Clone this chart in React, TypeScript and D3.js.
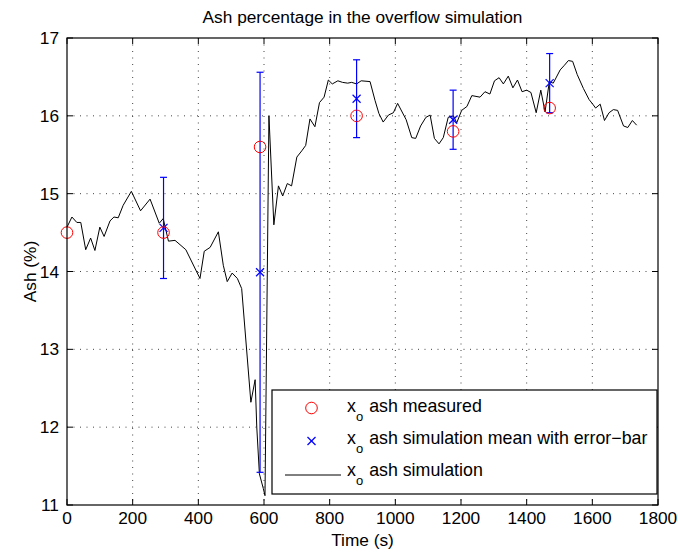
import React from "react";
import * as d3 from "d3";

const simTime = [0, 15, 30, 42, 57, 72, 85, 100, 113, 131, 143, 156, 171, 196, 224, 253, 281, 293, 309, 329, 362, 405, 418, 436, 461, 476, 488, 503, 519, 532, 560, 573, 578, 586, 598, 603, 615, 630, 644, 657, 671, 684, 700, 715, 727, 740, 755, 769, 783, 796, 808, 825, 839, 855, 867, 882, 896, 923, 938, 950, 963, 979, 994, 1007, 1033, 1050, 1062, 1077, 1093, 1106, 1119, 1133, 1146, 1161, 1177, 1187, 1202, 1218, 1233, 1258, 1273, 1288, 1302, 1316, 1329, 1344, 1358, 1372, 1386, 1400, 1413, 1429, 1443, 1456, 1469, 1481, 1502, 1515, 1527, 1540, 1554, 1573, 1590, 1603, 1610, 1624, 1637, 1651, 1664, 1677, 1695, 1708, 1722, 1735];
const simAsh = [14.57, 14.7, 14.63, 14.63, 14.28, 14.43, 14.27, 14.57, 14.45, 14.65, 14.7, 14.69, 14.85, 15.03, 14.78, 14.93, 14.62, 14.68, 14.39, 14.4, 14.28, 13.91, 14.26, 14.31, 14.51, 14.08, 13.87, 13.98, 13.91, 13.78, 12.32, 12.61, 12.0, 11.4, 11.21, 11.12, 16.0, 14.6, 15.1, 14.97, 15.13, 15.1, 15.47, 15.55, 15.62, 15.96, 15.86, 16.17, 16.24, 16.46, 16.41, 16.45, 16.43, 16.42, 16.43, 16.41, 16.45, 16.44, 16.2, 16.03, 15.92, 16.01, 16.04, 16.16, 15.95, 15.72, 15.71, 15.87, 15.98, 16.01, 15.71, 15.64, 15.72, 15.98, 16.0, 15.91, 16.07, 16.12, 16.26, 16.24, 16.31, 16.28, 16.45, 16.49, 16.41, 16.51, 16.36, 16.46, 16.31, 16.33, 16.3, 16.04, 16.33, 16.05, 16.44, 16.42, 16.59, 16.65, 16.71, 16.7, 16.53, 16.35, 16.21, 16.14, 16.1, 16.15, 15.94, 16.04, 16.08, 16.07, 15.87, 15.85, 15.94, 15.88];

const measTime = [0, 294, 588, 882, 1176, 1470];
const measAsh = [14.5, 14.5, 15.6, 16.0, 15.8, 16.1];

const meanTime = [294, 588, 882, 1176, 1470];
const meanAsh = [14.56, 13.99, 16.22, 15.95, 16.42];
const errHalf = [0.65, 2.57, 0.5, 0.38, 0.38];

const xTicks = [0, 200, 400, 600, 800, 1000, 1200, 1400, 1600, 1800];
const yTicks = [11, 12, 13, 14, 15, 16, 17];

const title = "Ash percentage in the overflow simulation";
const xLabel = "Time (s)";
const yLabel = "Ash (%)";
const legendLabels = ["ash measured", "ash simulation mean with error\u2212bar", "ash simulation"];

const FONT = "'Liberation Sans', Arial, Helvetica, sans-serif";

export default function App() {
  const W = 678, H = 554;
  const L = 67, R = 658, T = 38, B = 505;
  const x = d3.scaleLinear().domain([0, 1800]).range([L, R]);
  const y = d3.scaleLinear().domain([11, 17]).range([B, T]);
  const line = d3
    .line<number>()
    .x((_, i) => x(simTime[i]))
    .y((d) => y(d));
  const tick = 6;
  const fs = 17.3;
  const lfs = 17.8;

  const lgX = 272, lgY = 390, lgW = 385, lgH = 104;
  const rows = [409, 441, 473];

  return (
    <svg width={W} height={H} style={{ position: "absolute", left: 0, top: 0, background: "#fff" }} fontFamily={FONT}>
      <rect x={0} y={0} width={W} height={H} fill="#fff" />
      {/* grid */}
      {xTicks.slice(1, -1).map((t) => (
        <line key={"gx" + t} x1={x(t)} x2={x(t)} y1={T} y2={B} stroke="#444" strokeWidth={1} strokeDasharray="1,5.5" />
      ))}
      {yTicks.slice(1, -1).map((t) => (
        <line key={"gy" + t} x1={L} x2={R} y1={y(t)} y2={y(t)} stroke="#444" strokeWidth={1} strokeDasharray="1,5.5" />
      ))}
      {/* ticks */}
      {xTicks.map((t) => (
        <g key={"tx" + t}>
          <line x1={x(t)} x2={x(t)} y1={B} y2={B - tick} stroke="#000" />
          <line x1={x(t)} x2={x(t)} y1={T} y2={T + tick} stroke="#000" />
          <text x={x(t)} y={B + 19} fontSize={fs} textAnchor="middle" fill="#000">{t}</text>
        </g>
      ))}
      {yTicks.map((t) => (
        <g key={"ty" + t}>
          <line x1={L} x2={L + tick} y1={y(t)} y2={y(t)} stroke="#000" />
          <line x1={R} x2={R - tick} y1={y(t)} y2={y(t)} stroke="#000" />
          <text x={L - 8} y={y(t) + 6} fontSize={fs} textAnchor="end" fill="#000">{t}</text>
        </g>
      ))}
      {/* simulation line */}
      <path d={line(simAsh) || ""} fill="none" stroke="#000" strokeWidth={1} />
      {/* error bars */}
      {meanTime.map((t, i) => {
        const cx = x(t);
        const y1 = y(meanAsh[i] + errHalf[i]);
        const y2 = y(meanAsh[i] - errHalf[i]);
        const cy = y(meanAsh[i]);
        return (
          <g key={"eb" + t} stroke="#0000ff" strokeWidth={1.2}>
            <line x1={cx} x2={cx} y1={y1} y2={y2} />
            <line x1={cx - 3.5} x2={cx + 3.5} y1={y1} y2={y1} />
            <line x1={cx - 3.5} x2={cx + 3.5} y1={y2} y2={y2} />
            <line x1={cx - 4} x2={cx + 4} y1={cy - 4} y2={cy + 4} />
            <line x1={cx - 4} x2={cx + 4} y1={cy + 4} y2={cy - 4} />
          </g>
        );
      })}
      {/* measured */}
      {measTime.map((t, i) => (
        <circle key={"m" + t} cx={x(t)} cy={y(measAsh[i])} r={5.8} fill="none" stroke="#ff0000" strokeWidth={1} />
      ))}
      {/* axes box */}
      <rect x={L} y={T} width={R - L} height={B - T} fill="none" stroke="#000" strokeWidth={1.2} />
      {/* legend */}
      <rect x={lgX} y={lgY} width={lgW} height={lgH} fill="#fff" stroke="#000" strokeWidth={1.2} />
      <circle cx={311.5} cy={rows[0] - 1} r={5.8} fill="none" stroke="#ff0000" strokeWidth={1} />
      <g stroke="#0000ff" strokeWidth={1.2}>
        <line x1={307.5} x2={315.5} y1={rows[1] - 4} y2={rows[1] + 4} />
        <line x1={307.5} x2={315.5} y1={rows[1] + 4} y2={rows[1] - 4} />
      </g>
      <line x1={285} x2={341} y1={rows[2] + 2} y2={rows[2] + 2} stroke="#000" strokeWidth={1} />
      {legendLabels.map((lab, i) => (
        <text key={"lg" + i} x={347} y={rows[i] + 3} fontSize={lfs} fill="#000">
          x
          <tspan dy={9} fontSize={13}>o</tspan>
          <tspan dy={-9} dx={6}>{lab}</tspan>
        </text>
      ))}
      {/* labels */}
      <text x={(L + R) / 2} y={23} fontSize={fs} textAnchor="middle" fill="#000">{title}</text>
      <text x={(L + R) / 2} y={546} fontSize={fs} textAnchor="middle" fill="#000">{xLabel}</text>
      <text transform={`translate(36,${(T + B) / 2}) rotate(-90)`} fontSize={fs} textAnchor="middle" fill="#000">{yLabel}</text>
    </svg>
  );
}
